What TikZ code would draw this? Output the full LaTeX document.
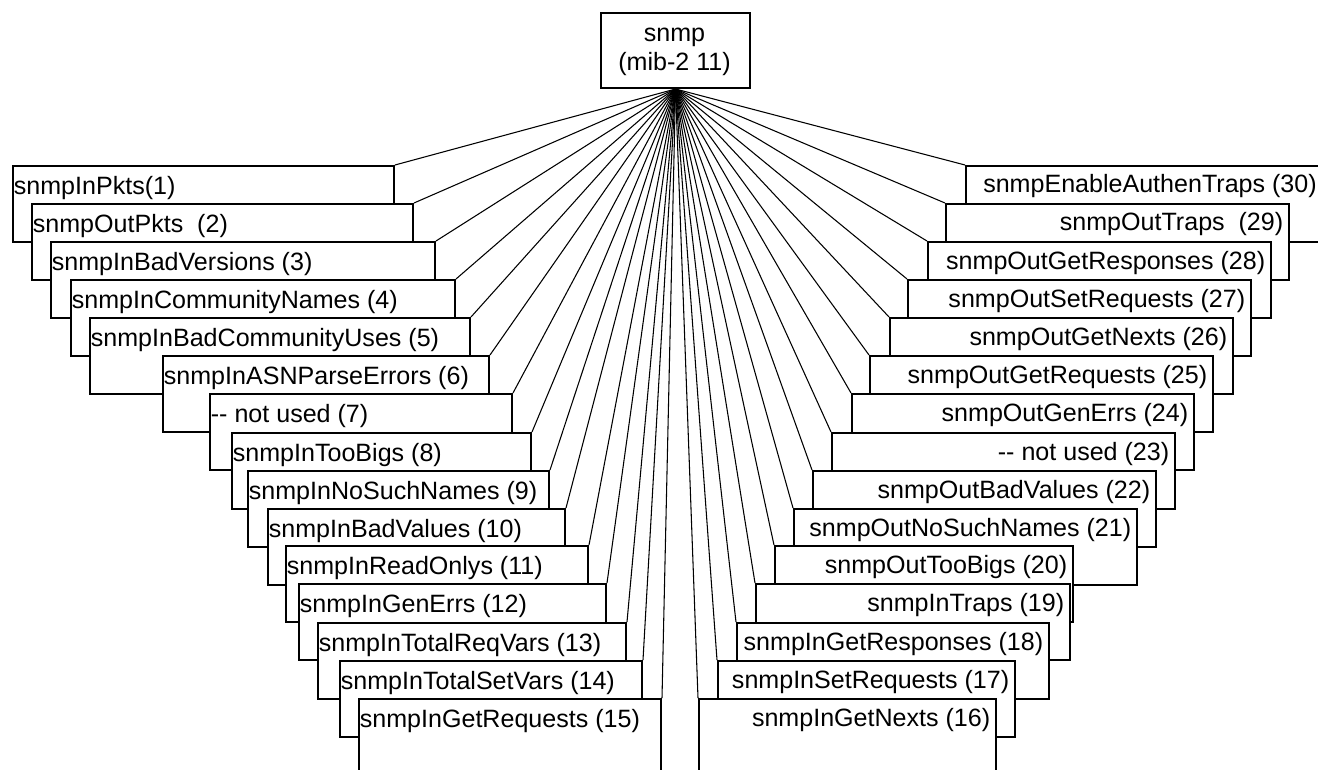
\documentclass[tikz,border=0pt]{standalone}
\usepackage{fontspec}
\setmainfont{Liberation Sans}
\usetikzlibrary{backgrounds}
\begin{document}
\begin{tikzpicture}[x=0.75pt,y=-0.75pt,
  objbox/.style={draw=black, line width=1.5pt, fill=white, inner sep=0pt,
    anchor=north west, minimum height=57pt},
  lbl/.style={inner sep=0pt, font=\fontsize{18.8}{22}\selectfont},
  link/.style={draw=black, line width=0.8pt}]
\useasboundingbox (0,0) rectangle (1318,770);

% root of the subtree
\node[objbox, minimum width=111.75pt, minimum height=56.25pt] (snmp) at (600,12) {};
\node[lbl, anchor=base] (snmpname) at (674.5,42) {snmp};
\node[lbl, anchor=base] (snmpoid) at (674.5,71) {(mib-2 11)};

% objects 1..15, stacked down the left side (later boxes lie on top)
\foreach \n/\l/\t/\r/\txt in {
  1/12/165/393/{snmpInPkts(1)},
  2/31/203/412/{snmpOutPkts\ \ (2)},
  3/50/241/434/{snmpInBadVersions (3)},
  4/70/279/454/{snmpInCommunityNames (4)},
  5/89/317/469/{snmpInBadCommunityUses (5)},
  6/162/355/488/{snmpInASNParseErrors (6)},
  7/209/393/511/{-\kern0pt- not used (7)},
  8/231/432/530/{snmpInTooBigs (8)},
  9/247/470/548/{snmpInNoSuchNames (9)},
  10/267/508/564/{snmpInBadValues (10)},
  11/285/545/587/{snmpInReadOnlys (11)},
  12/298/583/605/{snmpInGenErrs (12)},
  13/317/622/625/{snmpInTotalReqVars (13)},
  14/339/660/641/{snmpInTotalSetVars (14)},
  15/358/698/660/{snmpInGetRequests (15)}}{
  \node[objbox, minimum width={(\r-\l)*0.75pt}] (L\n) at (\l,\t) {};
  \node[lbl, anchor=base west] (L\n t) at ([xshift=1.2pt, yshift=-22.1pt]L\n.north west) {\txt};
}

% objects 30..16, stacked down the right side; \g is the gap before the right edge
\foreach \n/\l/\t/\r/\g/\txt in {
  30/965/165/1340/25/{snmpEnableAuthenTraps (30)},
  29/945/203/1288/6.5/{snmpOutTraps\ \ (29)},
  28/927/241/1270/6.5/{snmpOutGetResponses (28)},
  27/907/279/1250/6.5/{snmpOutSetRequests (27)},
  26/889/317/1232/6.5/{snmpOutGetNexts (26)},
  25/869/355/1212/6.5/{snmpOutGetRequests (25)},
  24/851/393/1193/6.5/{snmpOutGenErrs (24)},
  23/831/432/1174/6.5/{-\kern0pt- not used (23)},
  22/812/470/1155/6.5/{snmpOutBadValues (22)},
  21/793/508/1136/6.5/{snmpOutNoSuchNames (21)},
  20/774/545/1072/6.5/{snmpOutTooBigs (20)},
  19/755/583/1069/6.5/{snmpInTraps (19)},
  18/736/622/1048/6.5/{snmpInGetResponses (18)},
  17/717/660/1014/6.5/{snmpInSetRequests (17)},
  16/698/698/995/6.5/{snmpInGetNexts (16)}}{
  \node[objbox, minimum width={(\r-\l)*0.75pt}] (R\n) at (\l,\t) {};
  \node[lbl, anchor=base east] (R\n t) at ([xshift={-\g*0.75pt}, yshift=-21pt]R\n.north east) {\txt};
}

% fan of links from the root to each object
\begin{pgfonlayer}{background}
  \foreach \n in {1,...,15}
    \draw[link] (snmp.south) -- (L\n.north east);
  \foreach \n in {16,...,30}
    \draw[link] (snmp.south) -- (R\n.north west);
\end{pgfonlayer}
\end{tikzpicture}
\end{document}
